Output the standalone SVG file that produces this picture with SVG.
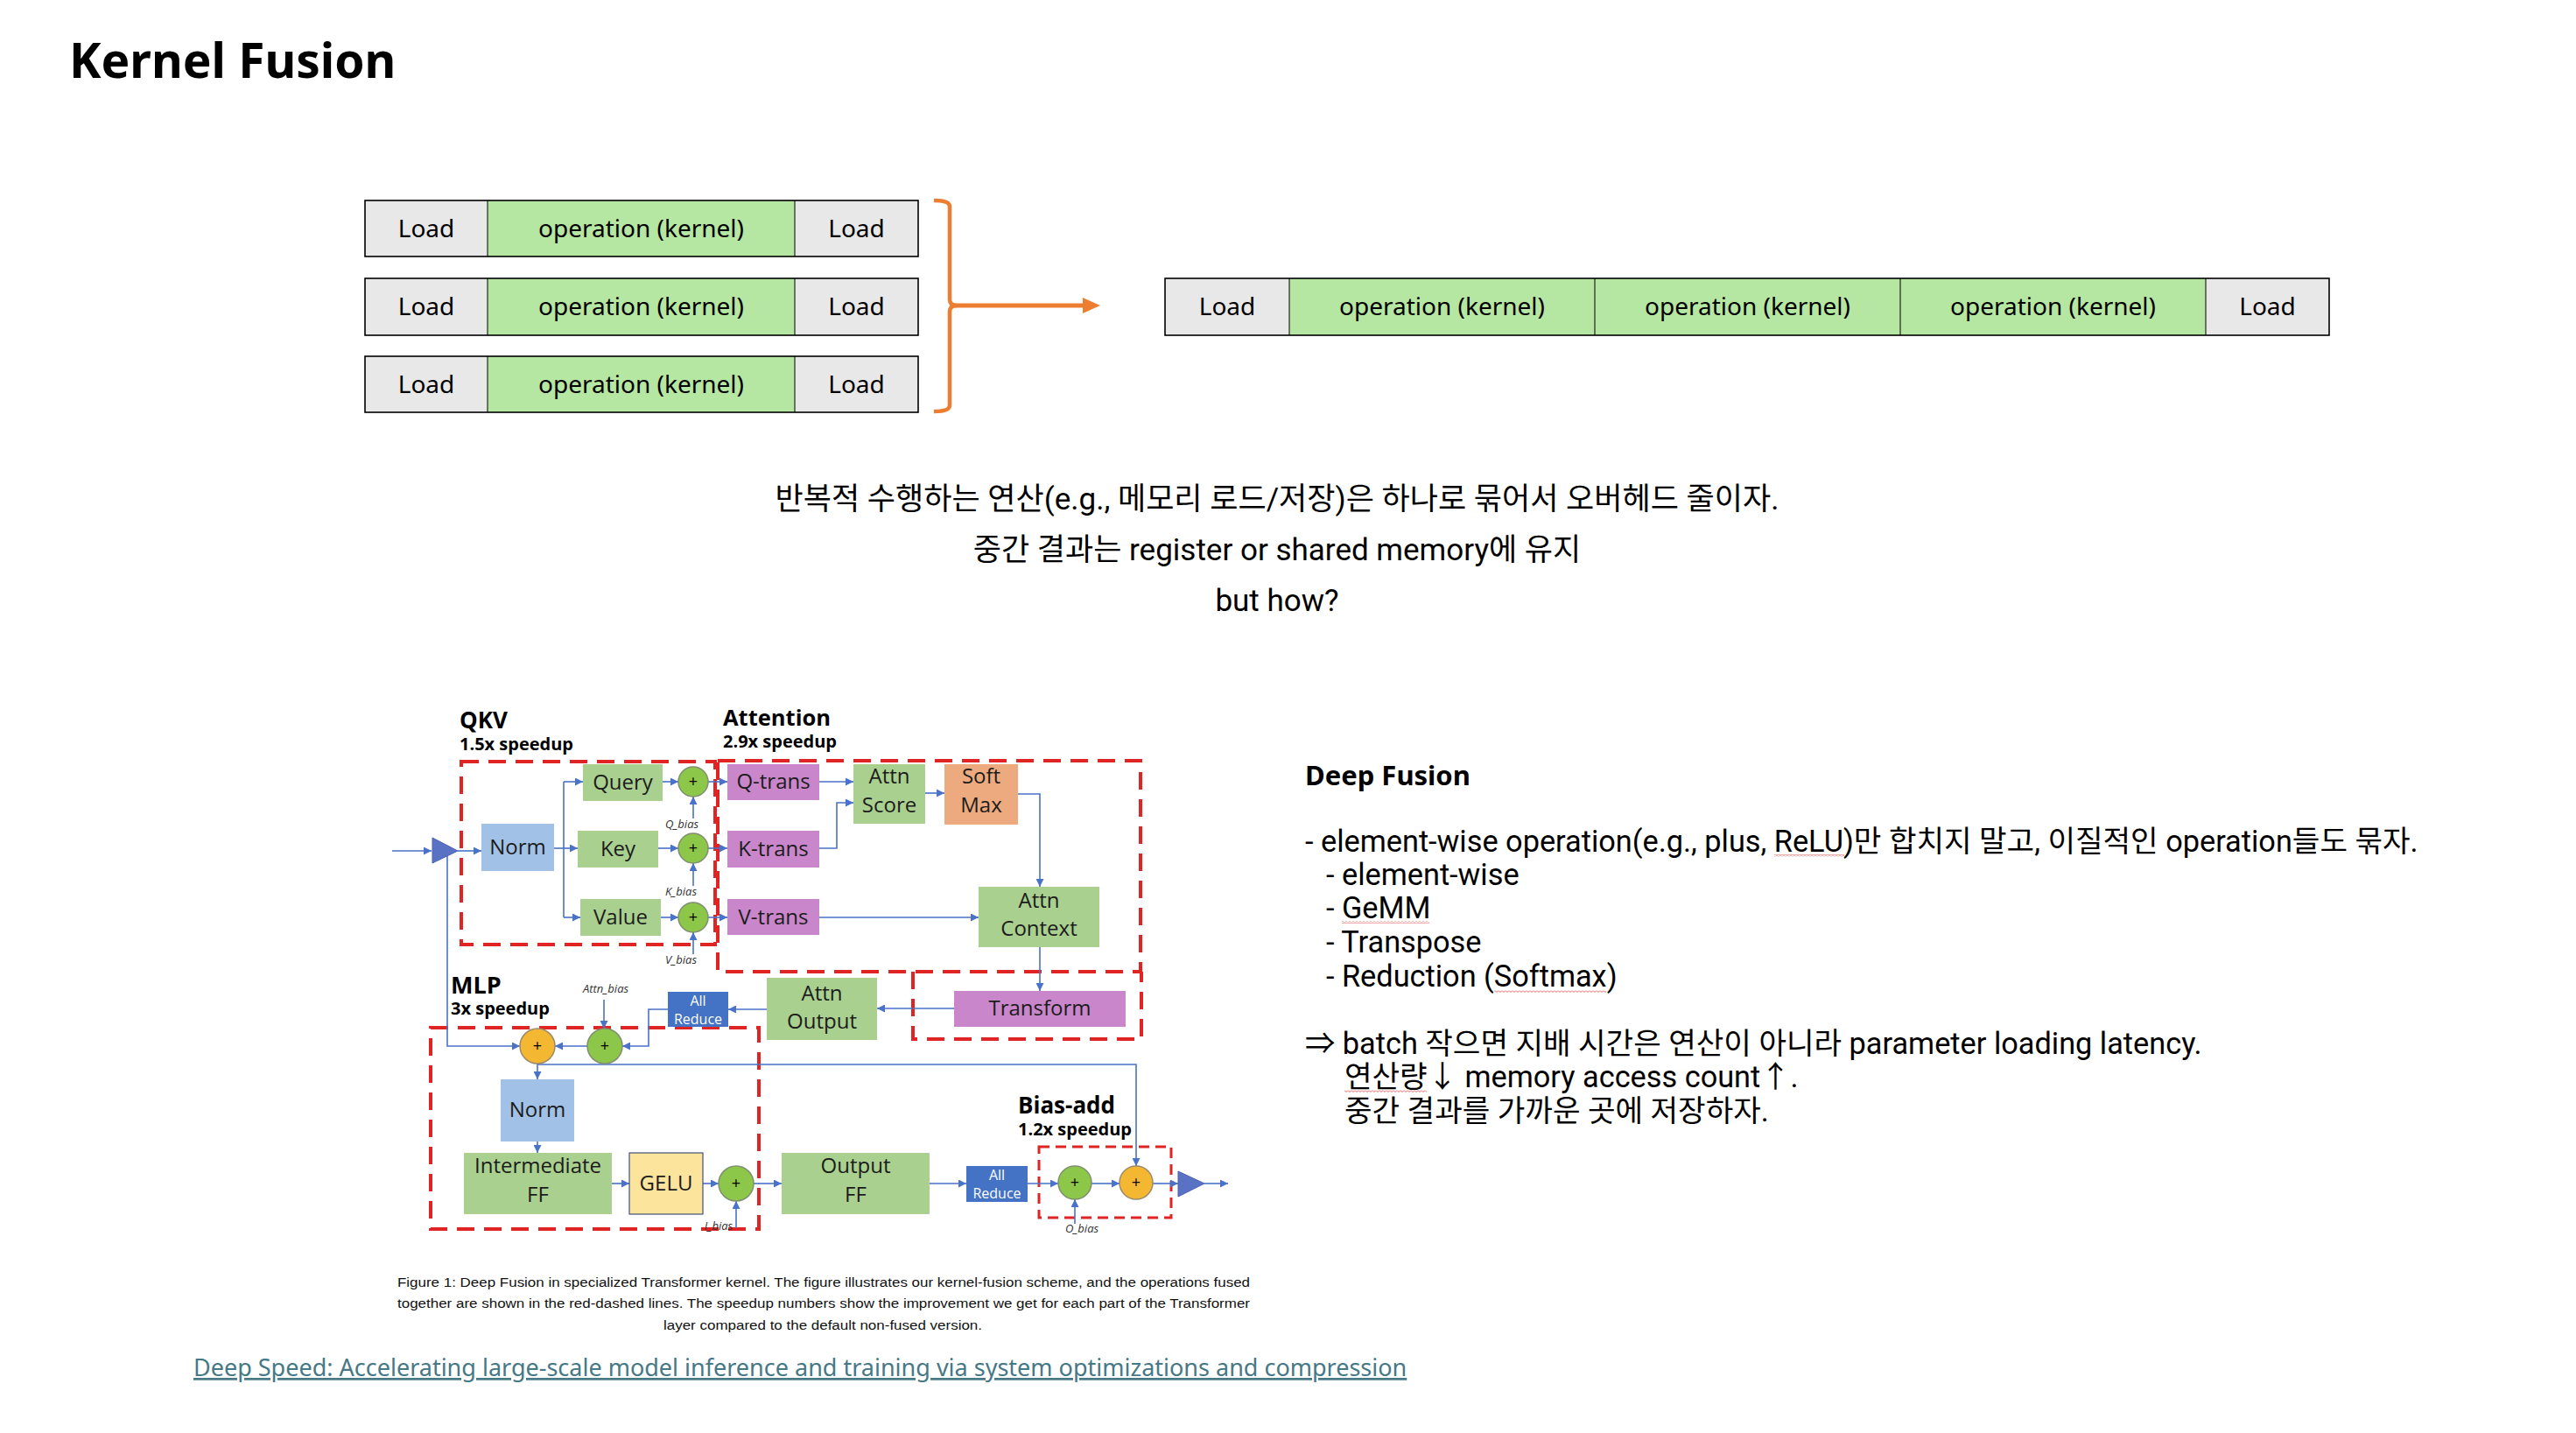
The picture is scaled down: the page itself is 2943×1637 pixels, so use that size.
<svg xmlns="http://www.w3.org/2000/svg" width="2943" height="1637" viewBox="0 0 2943 1637">
<defs>
<style>
.main{font-family:"Noto Sans","Noto Sans CJK KR",sans-serif;fill:#000}
.kr{font-family:Roboto,"Noto Sans CJK KR",sans-serif;fill:#000}
.cell{font-family:"Noto Sans","Noto Sans CJK KR",sans-serif;font-size:28px;fill:#000;text-anchor:middle}
.ld{fill:#E8E8E8}
.op{fill:#B5E6A2}
.rowframe{fill:none;stroke:#000;stroke-width:1.6}
.div{stroke:#000;stroke-width:1}
.fig{font-family:"Open Sans","Noto Sans",sans-serif;font-size:24px;fill:#1c1c1c;text-anchor:middle}
.figb{font-family:"Open Sans","Noto Sans",sans-serif;font-weight:bold;fill:#000}
.wht{font-family:"Open Sans","Noto Sans",sans-serif;font-size:16px;fill:#fff;text-anchor:middle}
.bias{font-family:"Open Sans","Noto Sans",sans-serif;font-style:italic;font-size:13px;fill:#333;text-anchor:middle}
.plus{font-family:"Open Sans","Noto Sans",sans-serif;font-size:18px;fill:#000;text-anchor:middle}
.g{fill:#A9D08E}
.b{fill:#A2C1E6}
.p{fill:#C986CA}
.o{fill:#EDAA7E}
.ar{fill:#4472C4}
.cg{fill:#8DC74A;stroke:#7F8F70;stroke-width:1.5}
.cy{fill:#F3B731;stroke:#9B8B6B;stroke-width:1.5}
.red{fill:none;stroke:#E02424;stroke-width:4;stroke-dasharray:20 11}
.redf{fill:none;stroke:#E02424;stroke-width:3;stroke-dasharray:12 7}
.con{fill:none;stroke:#4A72C8;stroke-width:1.6}
.cap{font-family:"Liberation Sans",Arial,sans-serif;font-size:14px;fill:#111}
</style>
<marker id="ah" viewBox="0 0 10 10" refX="10" refY="5" markerWidth="9" markerHeight="9" markerUnits="userSpaceOnUse" orient="auto">
<path d="M0,0 L10,5 L0,10 z" fill="#4A72C8"/>
</marker>
<pattern id="wavy" x="0" y="0" width="4" height="3" patternUnits="userSpaceOnUse">
<path d="M0,0.5 L2,2.5 L4,0.5" fill="none" stroke="#E03030" stroke-width="0.8"/>
</pattern>
</defs>
<rect width="2943" height="1637" fill="#fff"/>

<text class="main" x="79" y="89" font-size="55" font-weight="bold">Kernel Fusion</text>

<!-- left kernel rows -->
<g id="row1">
<rect class="ld" x="417" y="229" width="140" height="64"/>
<rect class="op" x="557" y="229" width="351" height="64"/>
<rect class="ld" x="908" y="229" width="141" height="64"/>
<line class="div" x1="557" y1="229" x2="557" y2="293"/>
<line class="div" x1="908" y1="229" x2="908" y2="293"/>
<rect class="rowframe" x="417" y="229" width="632" height="64"/>
<text class="cell" x="487" y="271">Load</text>
<text class="cell" x="732.5" y="271">operation (kernel)</text>
<text class="cell" x="978.5" y="271">Load</text>
</g>
<g id="row2">
<rect class="ld" x="417" y="318" width="140" height="65"/>
<rect class="op" x="557" y="318" width="351" height="65"/>
<rect class="ld" x="908" y="318" width="141" height="65"/>
<line class="div" x1="557" y1="318" x2="557" y2="383"/>
<line class="div" x1="908" y1="318" x2="908" y2="383"/>
<rect class="rowframe" x="417" y="318" width="632" height="65"/>
<text class="cell" x="487" y="360">Load</text>
<text class="cell" x="732.5" y="360">operation (kernel)</text>
<text class="cell" x="978.5" y="360">Load</text>
</g>
<g id="row3">
<rect class="ld" x="417" y="407" width="140" height="64"/>
<rect class="op" x="557" y="407" width="351" height="64"/>
<rect class="ld" x="908" y="407" width="141" height="64"/>
<line class="div" x1="557" y1="407" x2="557" y2="471"/>
<line class="div" x1="908" y1="407" x2="908" y2="471"/>
<rect class="rowframe" x="417" y="407" width="632" height="64"/>
<text class="cell" x="487" y="449">Load</text>
<text class="cell" x="732.5" y="449">operation (kernel)</text>
<text class="cell" x="978.5" y="449">Load</text>
</g>

<g id="bracket-arrow">
<path d="M1067,229 Q1085,229 1085,236 V342 Q1085,349 1093,349 Q1085,349 1085,356 V463 Q1085,470 1067,470" fill="none" stroke="#ED7D31" stroke-width="4.5"/>
<line x1="1087" y1="349" x2="1240" y2="349" stroke="#ED7D31" stroke-width="5"/>
<polygon points="1237,340 1257,349 1237,358" fill="#ED7D31"/>
</g>

<g id="fused-row">
<rect class="ld" x="1331" y="318" width="142" height="65"/>
<rect class="op" x="1473" y="318" width="349" height="65"/>
<rect class="op" x="1822" y="318" width="349" height="65"/>
<rect class="op" x="2171" y="318" width="349" height="65"/>
<rect class="ld" x="2520" y="318" width="141" height="65"/>
<line class="div" x1="1473" y1="318" x2="1473" y2="383"/>
<line class="div" x1="1822" y1="318" x2="1822" y2="383"/>
<line class="div" x1="2171" y1="318" x2="2171" y2="383"/>
<line class="div" x1="2520" y1="318" x2="2520" y2="383"/>
<rect class="rowframe" x="1331" y="318" width="1330" height="65"/>
<text class="cell" x="1402" y="360">Load</text>
<text class="cell" x="1647.5" y="360">operation (kernel)</text>
<text class="cell" x="1996.5" y="360">operation (kernel)</text>
<text class="cell" x="2345.5" y="360">operation (kernel)</text>
<text class="cell" x="2590.5" y="360">Load</text>
</g>

<g id="summary" class="kr" font-size="35" text-anchor="middle">
<text x="1459" y="582">반복적 수행하는 연산(e.g., 메모리 로드/저장)은 하나로 묶어서 오버헤드 줄이자.</text>
<text x="1459" y="640">중간 결과는 register or shared memory에 유지</text>
<text x="1459" y="698">but how?</text>
</g>

<!-- Figure -->
<g id="fig-titles">
<text class="figb" x="525" y="832" font-size="26">QKV</text>
<text class="figb" x="525" y="857" font-size="20">1.5x speedup</text>
<text class="figb" x="826" y="829" font-size="25.5">Attention</text>
<text class="figb" x="826" y="854" font-size="20">2.9x speedup</text>
<text class="figb" x="515" y="1135" font-size="27">MLP</text>
<text class="figb" x="515" y="1159" font-size="20">3x speedup</text>
<text class="figb" x="1163" y="1272" font-size="26">Bias-add</text>
<text class="figb" x="1163" y="1297" font-size="20">1.2x speedup</text>
</g>

<g id="fused-regions">
<rect class="red" x="527" y="870" width="290" height="209"/>
<rect class="red" x="820" y="869" width="483" height="241"/>
<path class="red" d="M1043,1110 V1187 H1304 V1110"/>
<rect class="red" x="492" y="1174" width="375" height="230"/>
<rect class="redf" x="1187" y="1310" width="151" height="81"/>
</g>

<g id="connectors">
<path class="con" d="M448,972 H493" marker-end="url(#ah)"/>
<path class="con" d="M523,972 H550" marker-end="url(#ah)"/>
<path class="con" d="M633,969 H644"/>
<path class="con" d="M644,893 V1048"/>
<path class="con" d="M644,893 H666" marker-end="url(#ah)"/>
<path class="con" d="M644,969 H660" marker-end="url(#ah)"/>
<path class="con" d="M644,1048 H663" marker-end="url(#ah)"/>
<path class="con" d="M757,893 H775" marker-end="url(#ah)"/>
<path class="con" d="M752,969 H775" marker-end="url(#ah)"/>
<path class="con" d="M755,1048 H775" marker-end="url(#ah)"/>
<path class="con" d="M792,935 V910" marker-end="url(#ah)"/>
<path class="con" d="M792,1012 V986" marker-end="url(#ah)"/>
<path class="con" d="M792,1090 V1065" marker-end="url(#ah)"/>
<path class="con" d="M809,893 H831" marker-end="url(#ah)"/>
<path class="con" d="M809,969 H831" marker-end="url(#ah)"/>
<path class="con" d="M809,1048 H831" marker-end="url(#ah)"/>
<path class="con" d="M936,893 H975" marker-end="url(#ah)"/>
<path class="con" d="M936,969 H956 V917 H975" marker-end="url(#ah)"/>
<path class="con" d="M1057,906 H1079" marker-end="url(#ah)"/>
<path class="con" d="M1163,907 H1188 V1013" marker-end="url(#ah)"/>
<path class="con" d="M936,1048 H1118" marker-end="url(#ah)"/>
<path class="con" d="M1188,1082 V1132" marker-end="url(#ah)"/>
<path class="con" d="M1090,1152 H1002" marker-end="url(#ah)"/>
<path class="con" d="M876,1153 H832" marker-end="url(#ah)"/>
<path class="con" d="M763,1153 H741 V1195 H711" marker-end="url(#ah)"/>
<path class="con" d="M690,1142 V1175" marker-end="url(#ah)"/>
<path class="con" d="M671,1195 H634" marker-end="url(#ah)"/>
<path class="con" d="M511,978 V1195 H594" marker-end="url(#ah)"/>
<path class="con" d="M614,1215 V1233" marker-end="url(#ah)"/>
<path class="con" d="M614,1216 H1298 V1332" marker-end="url(#ah)"/>
<path class="con" d="M614,1304 V1317" marker-end="url(#ah)"/>
<path class="con" d="M699,1352 H719" marker-end="url(#ah)"/>
<path class="con" d="M803,1352 H821" marker-end="url(#ah)"/>
<path class="con" d="M841,1403 V1372" marker-end="url(#ah)"/>
<path class="con" d="M861,1352 H893" marker-end="url(#ah)"/>
<path class="con" d="M1062,1352 H1104" marker-end="url(#ah)"/>
<path class="con" d="M1174,1352 H1209" marker-end="url(#ah)"/>
<path class="con" d="M1247,1352 H1279" marker-end="url(#ah)"/>
<path class="con" d="M1317,1352 H1346" marker-end="url(#ah)"/>
<path class="con" d="M1376,1352 H1403" marker-end="url(#ah)"/>
<path class="con" d="M1228,1398 V1370" marker-end="url(#ah)"/>
</g>

<g id="in-tri"><polygon points="494,957 523,972 494,986" fill="#5A72C4" stroke="#4A62B4" stroke-width="1"/></g>
<g id="norm1"><rect class="b" x="550" y="941" width="83" height="54"/><text class="fig" x="591.5" y="976">Norm</text></g>
<g id="query"><rect class="g" x="666" y="873" width="91" height="42"/><text class="fig" x="711.5" y="902">Query</text></g>
<g id="key"><rect class="g" x="660" y="949" width="92" height="42"/><text class="fig" x="706" y="978">Key</text></g>
<g id="value"><rect class="g" x="663" y="1027" width="92" height="42"/><text class="fig" x="709" y="1056">Value</text></g>
<g id="qplus"><circle class="cg" cx="792" cy="893" r="17"/><text class="plus" x="792" y="899">+</text></g>
<g id="kplus"><circle class="cg" cx="792" cy="969" r="17"/><text class="plus" x="792" y="975">+</text></g>
<g id="vplus"><circle class="cg" cx="792" cy="1048" r="17"/><text class="plus" x="792" y="1054">+</text></g>
<g id="qbias"><text class="bias" x="779" y="946">Q_bias</text></g>
<g id="kbias"><text class="bias" x="778" y="1023">K_bias</text></g>
<g id="vbias"><text class="bias" x="778" y="1101">V_bias</text></g>
<g id="qtrans"><rect class="p" x="831" y="873" width="105" height="41"/><text class="fig" x="883.5" y="901">Q-trans</text></g>
<g id="ktrans"><rect class="p" x="831" y="949" width="105" height="42"/><text class="fig" x="883.5" y="978">K-trans</text></g>
<g id="vtrans"><rect class="p" x="831" y="1027" width="105" height="41"/><text class="fig" x="883.5" y="1056">V-trans</text></g>
<g id="attnscore"><rect class="g" x="975" y="873" width="82" height="68"/><text class="fig" x="1016" y="895">Attn</text><text class="fig" x="1016" y="928">Score</text></g>
<g id="softmax"><rect class="o" x="1079" y="873" width="84" height="69"/><text class="fig" x="1121" y="895">Soft</text><text class="fig" x="1121" y="928">Max</text></g>
<g id="attncontext"><rect class="g" x="1118" y="1013" width="138" height="69"/><text class="fig" x="1187" y="1037">Attn</text><text class="fig" x="1187" y="1069">Context</text></g>
<g id="transform"><rect class="p" x="1090" y="1132" width="196" height="41"/><text class="fig" x="1188" y="1160">Transform</text></g>
<g id="attnoutput"><rect class="g" x="876" y="1117" width="126" height="71"/><text class="fig" x="939" y="1143">Attn</text><text class="fig" x="939" y="1175">Output</text></g>
<g id="allreduce1"><rect class="ar" x="763" y="1133" width="69" height="40"/><text class="wht" x="797.5" y="1149">All</text><text class="wht" x="797.5" y="1170">Reduce</text></g>
<g id="attnbias"><text class="bias" x="692" y="1134">Attn_bias</text></g>
<g id="mlp-add-y"><circle class="cy" cx="614" cy="1195" r="20"/><text class="plus" x="614" y="1201">+</text></g>
<g id="mlp-add-g"><circle class="cg" cx="691" cy="1195" r="20"/><text class="plus" x="691" y="1201">+</text></g>
<g id="norm2"><rect class="b" x="572" y="1233" width="84" height="71"/><text class="fig" x="614" y="1276">Norm</text></g>
<g id="interff"><rect class="g" x="530" y="1317" width="169" height="70"/><text class="fig" x="614.5" y="1340">Intermediate</text><text class="fig" x="614.5" y="1373">FF</text></g>
<g id="gelu"><rect x="719" y="1317" width="84" height="70" fill="#FCE49C" stroke="#42537A" stroke-width="1.2"/><text class="fig" x="761" y="1360">GELU</text></g>
<g id="iplus"><circle class="cg" cx="841" cy="1352" r="20"/><text class="plus" x="841" y="1358">+</text></g>
<g id="ibias"><text class="bias" x="821" y="1405">I_bias</text></g>
<g id="outputff"><rect class="g" x="893" y="1317" width="169" height="70"/><text class="fig" x="977.5" y="1340">Output</text><text class="fig" x="977.5" y="1373">FF</text></g>
<g id="allreduce2"><rect class="ar" x="1104" y="1332" width="70" height="41"/><text class="wht" x="1139" y="1348">All</text><text class="wht" x="1139" y="1369">Reduce</text></g>
<g id="oplus"><circle class="cg" cx="1228" cy="1351" r="19"/><text class="plus" x="1228" y="1357">+</text></g>
<g id="resplus"><circle class="cy" cx="1298" cy="1351" r="19"/><text class="plus" x="1298" y="1357">+</text></g>
<g id="obias"><text class="bias" x="1236" y="1408">O_bias</text></g>
<g id="out-tri"><polygon points="1346,1338 1376,1352 1346,1367" fill="#5A72C4" stroke="#4A62B4" stroke-width="1"/></g>

<g id="caption">
<text class="cap" x="454" y="1470" textLength="974" lengthAdjust="spacingAndGlyphs">Figure 1: Deep Fusion in specialized Transformer kernel. The figure illustrates our kernel-fusion scheme, and the operations fused</text>
<text class="cap" x="454" y="1494" textLength="974" lengthAdjust="spacingAndGlyphs">together are shown in the red-dashed lines. The speedup numbers show the improvement we get for each part of the Transformer</text>
<text class="cap" x="758" y="1519" textLength="364" lengthAdjust="spacingAndGlyphs">layer compared to the default non-fused version.</text>
</g>

<g id="link">
<text class="main" x="221" y="1572" font-size="27" style="fill:#467886" text-decoration="underline">Deep Speed: Accelerating large-scale model inference and training via system optimizations and compression</text>
</g>

<g id="deep-fusion">
<text class="main" x="1491" y="897" font-size="31" font-weight="bold">Deep Fusion</text>
<g class="kr" font-size="34.3">
<text x="1491" y="973">- element-wise operation(e.g., plus, ReLU)만 합치지 말고, 이질적인 operation들도 묶자.</text>
<text x="1515" y="1011">- element-wise</text>
<text x="1515" y="1049">- GeMM</text>
<text x="1515" y="1088">- Transpose</text>
<text x="1515" y="1127">- Reduction (Softmax)</text>
<text x="1491" y="1204">⇒ batch 작으면 지배 시간은 연산이 아니라 parameter loading latency.</text>
<text x="1536" y="1242">연산량↓ memory access count↑.</text>
<text x="1536" y="1281">중간 결과를 가까운 곳에 저장하자.</text>
</g>
</g>
<g id="spell-marks">
<rect x="2027" y="976" width="80" height="3" fill="url(#wavy)"/>
<rect x="1533" y="1052" width="100" height="3" fill="url(#wavy)"/>
<rect x="1707" y="1131" width="128" height="3" fill="url(#wavy)"/>
<rect x="1536" y="1245" width="94" height="3" fill="url(#wavy)"/>
</g>
</svg>
